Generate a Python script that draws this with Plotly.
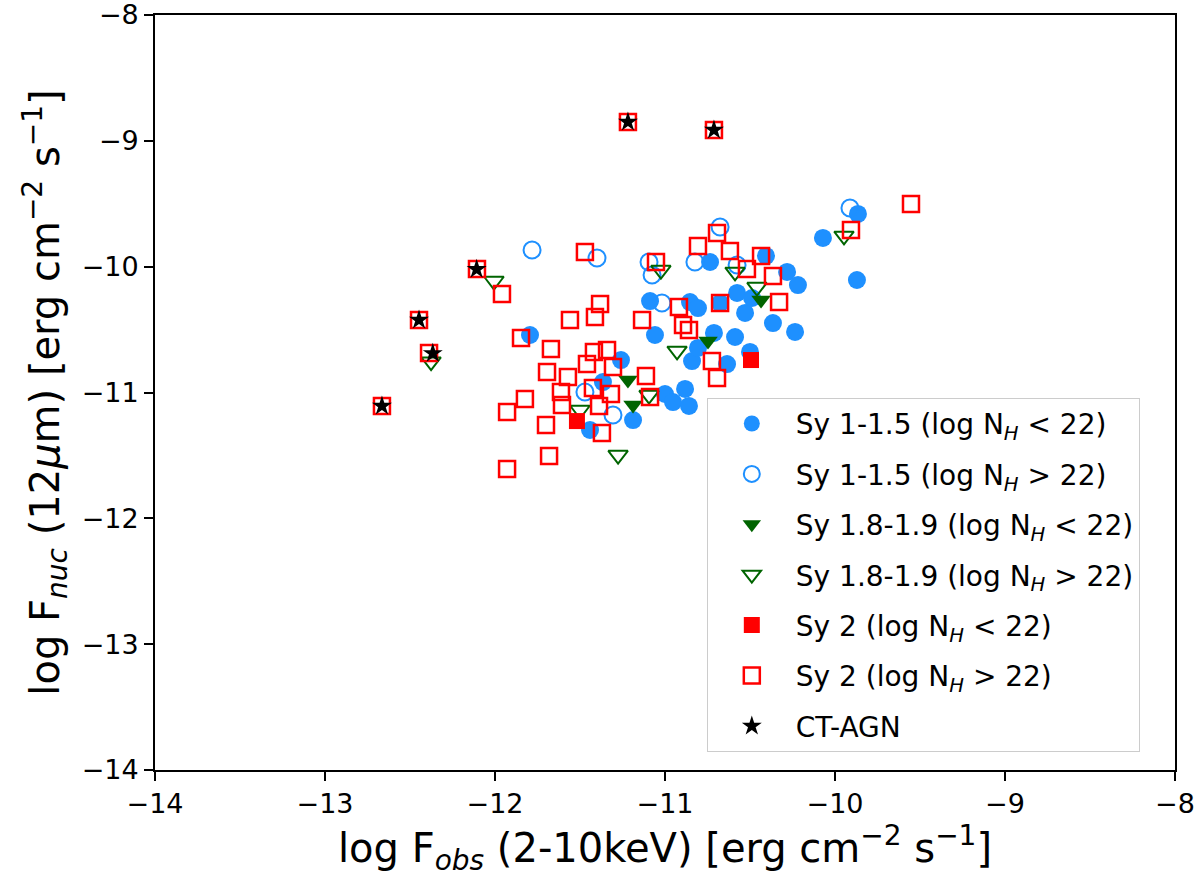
import plotly.graph_objects as go

# log F_obs (2-10 keV) vs log F_nuc (12 micron)
sy1_low_x = [-11.794, -11.088, -11.059, -11.259, -11.365, -11.441, -11.188, -11.000, -10.953,
             -10.882, -10.859, -10.853, -10.806, -10.735, -10.712, -10.588, -10.841, -10.806,
             -10.635, -10.676, -10.576, -10.529, -10.500, -10.406, -10.282, -10.218, -10.365,
             -10.235, -10.071, -9.865, -9.871, -10.488]
sy1_low_y = [-10.543, -10.273, -10.543, -10.742, -10.917, -11.298, -11.219, -11.012, -11.076,
             -10.972, -11.107, -10.281, -10.329, -9.963, -10.527, -10.559, -10.750, -10.646,
             -10.774, -10.289, -10.209, -10.368, -10.678, -9.915, -10.042, -10.146, -10.448,
             -10.519, -9.772, -9.581, -10.106, -10.249]

sy1_high_x = [-11.782, -11.400, -11.094, -11.076, -11.018, -10.824, -10.676, -10.576, -9.912,
              -11.471, -11.306]
sy1_high_y = [-9.868, -9.931, -9.963, -10.066, -10.289, -9.963, -9.685, -9.987, -9.534,
              -10.996, -11.179]

sy18_low_x = [-11.218, -11.188, -10.747, -10.435]
sy18_low_y = [-10.901, -11.099, -10.591, -10.265]

sy18_high_x = [-12.006, -11.024, -10.588, -10.459, -10.929, -11.094, -11.500, -11.276, -9.947,
               -12.376]
sy18_high_y = [-10.114, -10.027, -10.042, -10.162, -10.670, -11.020, -11.139, -11.497, -9.756,
               -10.755]

sy2_low_x = [-11.518, -10.494]
sy2_low_y = [-11.227, -10.742]

sy2_high_x = [-12.665, -12.447, -12.388, -12.106, -11.218, -10.712, -11.959, -11.471, -11.053,
              -11.382, -11.412, -11.559, -11.135, -11.847, -11.671, -11.418, -11.341, -11.459,
              -11.306, -11.694, -11.571, -11.112, -11.424, -11.612, -11.318, -11.824, -11.088,
              -11.929, -11.388, -11.606, -11.700, -11.371, -11.682, -11.929, -10.806, -10.694,
              -10.618, -10.435, -10.518, -10.365, -10.329, -10.676, -10.918, -10.894, -10.859,
              -10.724, -10.694, -9.906, -9.553]
sy2_high_y = [-11.107, -10.424, -10.686, -10.019, -8.850, -8.914, -10.217, -9.883, -9.963,
              -10.297, -10.400, -10.424, -10.424, -10.567, -10.654, -10.678, -10.662, -10.774,
              -10.797, -10.837, -10.877, -10.869, -10.964, -10.996, -11.012, -11.052, -11.036,
              -11.155, -11.107, -11.099, -11.258, -11.322, -11.505, -11.608, -9.836, -9.733,
              -9.876, -9.915, -10.019, -10.074, -10.281, -10.289, -10.321, -10.464, -10.503,
              -10.750, -10.885, -9.709, -9.502]

ct_x = [-12.665, -12.447, -12.366, -12.108, -11.218, -10.712]
ct_y = [-11.107, -10.424, -10.689, -10.021, -8.850, -8.914]

tick_vals = [-14, -13, -12, -11, -10, -9, -8]
tick_text = ["\u221214", "\u221213", "\u221212", "\u221211", "\u221210", "\u22129", "\u22128"]

BLUE = "#1E90FF"
GREEN = "#006400"
RED = "#FF0000"

series = [
    ("Sy 1-1.5 (log N<sub><i>H</i></sub> &lt; 22)", sy1_low_x, sy1_low_y,
     dict(symbol="circle", size=18, color=BLUE)),
    ("Sy 1-1.5 (log N<sub><i>H</i></sub> &gt; 22)", sy1_high_x, sy1_high_y,
     dict(symbol="circle-open", size=17, color=BLUE, line=dict(width=2, color=BLUE))),
    ("Sy 1.8-1.9 (log N<sub><i>H</i></sub> &lt; 22)", sy18_low_x, sy18_low_y,
     dict(symbol="triangle-down", size=17, color=GREEN)),
    ("Sy 1.8-1.9 (log N<sub><i>H</i></sub> &gt; 22)", sy18_high_x, sy18_high_y,
     dict(symbol="triangle-down-open", size=17, color=GREEN, line=dict(width=2, color=GREEN))),
    ("Sy 2 (log N<sub><i>H</i></sub> &lt; 22)", sy2_low_x, sy2_low_y,
     dict(symbol="square", size=16, color=RED)),
    ("Sy 2 (log N<sub><i>H</i></sub> &gt; 22)", sy2_high_x, sy2_high_y,
     dict(symbol="square-open", size=16, color=RED, line=dict(width=2.5, color=RED))),
    ("CT-AGN", ct_x, ct_y,
     dict(symbol="star", size=15, color="black")),
]

fig = go.Figure()
for i, (name, xs, ys, marker) in enumerate(series):
    fig.add_trace(go.Scatter(x=xs, y=ys, mode="markers", name=name, marker=marker,
                             legendgroup=f"g{i}"))

axis_common = dict(
    showline=True, linecolor="black", linewidth=1.8, mirror=True,
    ticks="outside", ticklen=9, tickwidth=1.8, tickcolor="black",
    showgrid=False, zeroline=False, automargin=False, ticklabeloverflow="allow",
    tickvals=tick_vals, ticktext=tick_text,
    tickfont=dict(family="DejaVu Sans", size=27, color="black"),
)

fig.update_layout(
    width=1200, height=887,
    margin=dict(l=155, r=25, t=15, b=117),
    plot_bgcolor="white", paper_bgcolor="white",
    font=dict(family="DejaVu Sans", color="black"),
    xaxis=dict(range=[-14, -8],
               title=dict(text="log F<sub><i>obs</i></sub> (2-10keV) [erg cm<sup>\u22122</sup> s<sup>\u22121</sup>]",
                          font=dict(size=40), standoff=14),
               **axis_common),
    yaxis=dict(range=[-14, -8],
               title=dict(text="log F<sub><i>nuc</i></sub> (12<i>\u03bc</i>m) [erg cm<sup>\u22122</sup> s<sup>\u22121</sup>]",
                          font=dict(size=40), standoff=10),
               **axis_common),
    legend=dict(x=0.541, y=0.493, xanchor="left", yanchor="top",
                bgcolor="rgba(255,255,255,0.8)", bordercolor="#cccccc", borderwidth=1,
                font=dict(size=28), tracegroupgap=11, itemwidth=78),
)

# drop the default 8px page margin so the figure sits at the window corner
fig.write_html("out.html", config={"displayModeBar": False},
               post_script="document.body.style.margin = '0';")
